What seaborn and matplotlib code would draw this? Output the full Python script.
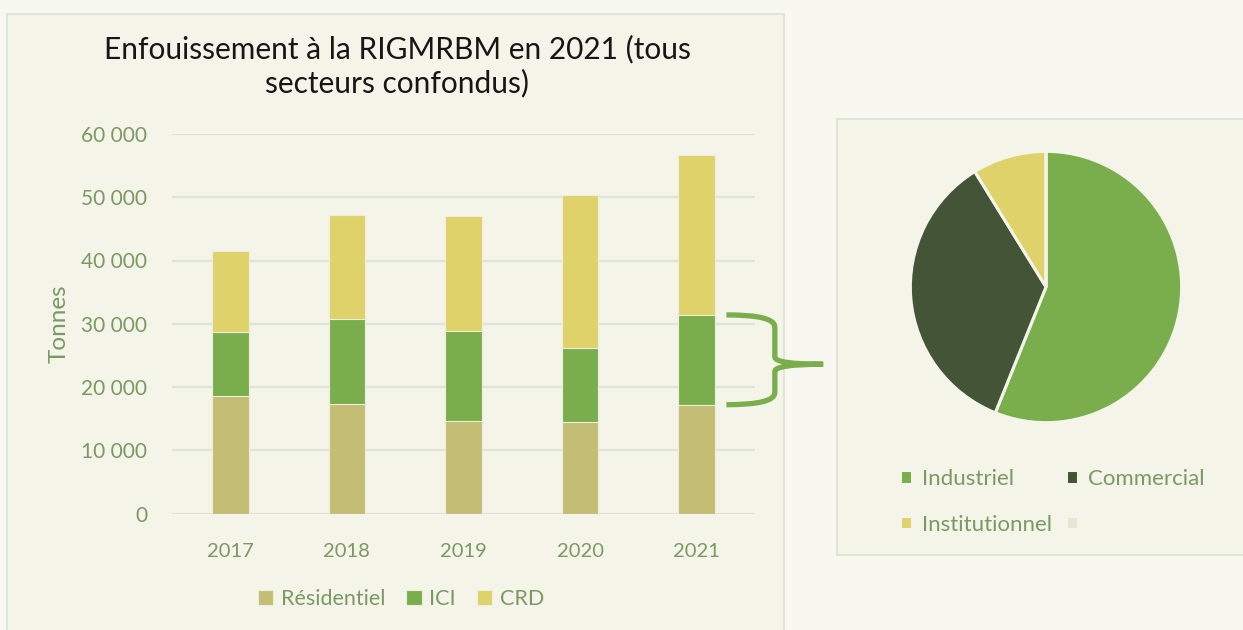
import matplotlib
matplotlib.use("Agg")
import matplotlib.pyplot as plt
import matplotlib.transforms as mtransforms
from matplotlib.patches import Rectangle, PathPatch
from matplotlib.path import Path
from matplotlib.ticker import MultipleLocator, FuncFormatter
import seaborn as sns
import pandas as pd

# ---------------- data ----------------
years = ["2017", "2018", "2019", "2020", "2021"]
residentiel = [18500, 17300, 14600, 14500, 17200]
ici = [10250, 13500, 14300, 11700, 14200]
crd = [12750, 16400, 18150, 24100, 25300]

pie_labels = ["Industriel", "Commercial", "Institutionnel", ""]
pie_values = [56.1, 35.1, 8.8, 0.0]

title = "Enfouissement à la RIGMRBM en 2021 (tous\nsecteurs confondus)"

# ---------------- style ----------------
sns.set_theme(style="white")
plt.rcParams["font.family"] = ["Lato", "DejaVu Sans"]

OUTER_BG = "#f8f8f1"
PANEL_BG = "#f4f4e9"
PANEL_EDGE = "#dfe6d6"
GRID = "#dfe4d6"
TXT = "#7b9963"
C_RES = "#c4bd74"
C_ICI = "#7aae4c"
C_CRD = "#e0d26a"
C_COM = "#435536"
C_EMPTY = "#e8e5d2"

fig = plt.figure(figsize=(12.43, 6.30), dpi=100)
fig.patch.set_facecolor(OUTER_BG)

# panels
fig.patches.append(Rectangle((7 / 1243, -0.02), 777 / 1243, 1 - 14 / 630 + 0.02,
                             transform=fig.transFigure, facecolor=PANEL_BG,
                             edgecolor=PANEL_EDGE, linewidth=1.5, zorder=-10))
fig.patches.append(Rectangle((837 / 1243, (630 - 555) / 630), 0.4, (555 - 119) / 630,
                             transform=fig.transFigure, facecolor=PANEL_BG,
                             edgecolor=PANEL_EDGE, linewidth=1.5, zorder=-10))

# ---------------- stacked bars ----------------
ax = fig.add_axes([172 / 1243, (630 - 513.5) / 630, 583 / 1243, 379.5 / 630])
ax.set_facecolor("none")

tot_res = residentiel
tot_ici = [r + i for r, i in zip(residentiel, ici)]
tot_crd = [r + i + c for r, i, c in zip(residentiel, ici, crd)]

df = pd.DataFrame({"year": years, "CRD": tot_crd, "ICI": tot_ici, "Résidentiel": tot_res})
bw = 0.313
for col, colr in [("CRD", C_CRD), ("ICI", C_ICI), ("Résidentiel", C_RES)]:
    sns.barplot(data=df, x="year", y=col, color=colr, width=bw, ax=ax,
                label=col, edgecolor="#eeeedc", linewidth=0.8, saturation=1, zorder=3)

ax.set_xlim(-0.5, len(years) - 0.5)
ax.set_ylim(0, 60000)
ax.yaxis.set_major_locator(MultipleLocator(10000))
ax.yaxis.set_major_formatter(FuncFormatter(lambda v, p: f"{int(v):,}".replace(",", " ")))
ax.grid(axis="y", color=GRID, linewidth=1.6, zorder=0)
ax.set_axisbelow(True)
for s in ax.spines.values():
    s.set_visible(False)
ax.tick_params(axis="y", length=0, pad=18, labelsize=15, labelcolor=TXT)
ax.tick_params(axis="x", length=0, pad=21, labelsize=14.5, labelcolor=TXT)
ax.set_xlabel("")
ax.set_ylabel("Tonnes", fontsize=17.5, color=TXT)
ax.yaxis.set_label_coords(-0.175, 0.5)

handles, labels = ax.get_legend_handles_labels()
if ax.get_legend() is not None:
    ax.get_legend().remove()
order = [labels.index(n) for n in ["Résidentiel", "ICI", "CRD"]]
fig.legend([handles[i] for i in order], [labels[i] for i in order],
           loc="center", bbox_to_anchor=(401 / 1243, 1 - 599 / 630),
           ncol=3, frameon=False, fontsize=15.5, labelcolor=TXT,
           handlelength=0.7, handleheight=0.7, handletextpad=0.35, columnspacing=1.0)

# brace spanning the 2021 ICI segment
tr = mtransforms.blended_transform_factory(ax.transAxes, ax.transData)
yt = tot_ici[-1]
yb = tot_res[-1]
ym = (yt + yb) / 2 - 700
x0, x1, x2 = 0.951, 1.034, 1.117
d = 1900
verts = [(x0, yt), (x1, yt), (x1, yt - d),
         (x1, ym + d * 0.6), (x1, ym), (x2, ym),
         (x2, ym), (x1, ym), (x1, ym - d * 0.6),
         (x1, yb + d), (x1, yb), (x0, yb)]
codes = [Path.MOVETO, Path.CURVE3, Path.CURVE3,
         Path.LINETO, Path.CURVE3, Path.CURVE3,
         Path.MOVETO, Path.CURVE3, Path.CURVE3,
         Path.LINETO, Path.CURVE3, Path.CURVE3]
ax.add_patch(PathPatch(Path(verts, codes), transform=tr, facecolor="none",
                       edgecolor=C_ICI, linewidth=3.8, clip_on=False,
                       capstyle="butt", joinstyle="round", zorder=5))

fig.text(397 / 1243, 1 - 66 / 630, title, ha="center", va="center",
         fontsize=21.5, color="#161616", linespacing=1.2)

# ---------------- pie ----------------
pax = fig.add_axes([(1046 - 137) / 1243, (630 - 287 - 137) / 630, 274 / 1243, 274 / 630])
pax.set_facecolor("none")
wedges, _ = pax.pie(pie_values, colors=[C_ICI, C_COM, C_CRD, C_EMPTY], startangle=90,
                    counterclock=False, radius=1,
                    wedgeprops=dict(edgecolor=PANEL_BG, linewidth=2.2))
pax.set_xlim(-1.01, 1.01)
pax.set_ylim(-1.01, 1.01)
pax.set_aspect("equal")
pax.axis("off")

# legend filled column-wise: reorder so rows read Industriel/Commercial, Institutionnel/(empty)
lorder = [0, 2, 1, 3]
fig.legend([wedges[i] for i in lorder], [pie_labels[i] for i in lorder], loc="upper left",
           bbox_to_anchor=(880 / 1243, 1 - 449 / 630), ncol=2, frameon=False,
           fontsize=16, labelcolor=TXT, handlelength=0.55, handleheight=0.55,
           handletextpad=0.45, columnspacing=0.6, labelspacing=1.15)

fig.savefig("out.png", dpi=100, facecolor=fig.get_facecolor())
